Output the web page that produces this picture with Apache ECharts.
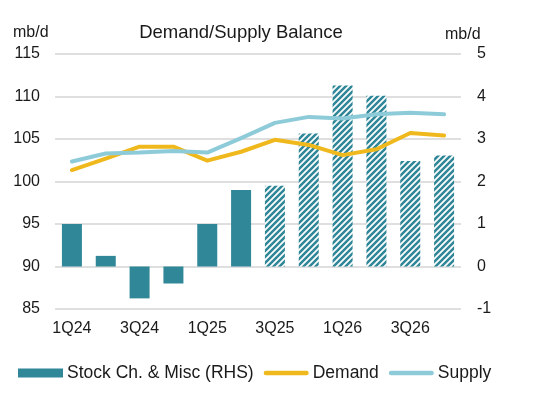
<!DOCTYPE html>
<html>
<head>
<meta charset="utf-8">
<script src="https://cdn.jsdelivr.net/npm/echarts@6/dist/echarts.min.js"></script>
<style>
html,body{margin:0;padding:0;background:#fff;}
#chart{width:554px;height:395px;}
</style>
</head>
<body>
<div id="chart"></div>
<script>
const categories = ['1Q24','2Q24','3Q24','4Q24','1Q25','2Q25','3Q25','4Q25','1Q26','2Q26','3Q26','4Q26'];
const stockChange = [1.0, 0.25, -0.75, -0.4, 1.0, 1.8, 1.9, 3.13, 4.26, 4.02, 2.48, 2.61];
const forecastStart = 6;
const demand = [101.35, 102.7, 104.1, 104.1, 102.45, 103.5, 104.9, 104.3, 103.1, 103.8, 105.7, 105.4];
const supply = [102.35, 103.3, 103.4, 103.6, 103.4, 105.1, 106.9, 107.6, 107.4, 107.9, 108.1, 107.9];
const leftTicks = [85, 115, 5];
const rightTicks = [-1, 5, 1];

const barColor = '#2f8797';
const demandColor = '#efb91d';
const supplyColor = '#8ecbd9';

function hatch() {
  const c = document.createElement('canvas');
  const s = 6;
  c.width = s; c.height = s;
  const g = c.getContext('2d');
  g.fillStyle = '#ffffff';
  g.fillRect(0,0,s,s);
  g.strokeStyle = barColor;
  g.lineWidth = 2.5;
  g.beginPath();
  g.moveTo(-1, s+1); g.lineTo(s+1, -1);
  g.moveTo(-1 - s, s+1); g.lineTo(1, -1);
  g.moveTo(s-1, s+1); g.lineTo(2*s+1, -1);
  g.stroke();
  return c;
}
const pattern = {image: hatch(), repeat: 'repeat'};

const barData = stockChange.map((v, i) => i >= forecastStart
  ? {value: v, itemStyle: {color: pattern}}
  : {value: v});

const lineIcon = 'path://M2,0 L44,0 A2.25,2.25 0 0 1 44,4.5 L2,4.5 A2.25,2.25 0 0 1 2,0 Z';

const chart = echarts.init(document.getElementById('chart'), null, {renderer: 'canvas'});
const font = 'Liberation Sans, Arial, sans-serif';
chart.setOption({
  animation: false,
  backgroundColor: '#fff',
  textStyle: {fontFamily: font},
  title: {
    text: 'Demand/Supply Balance',
    left: 236, textAlign: 'center', top: 18,
    textStyle: {fontFamily: font, fontSize: 18.5, fontWeight: 'normal', color: '#1a1a1a'}
  },
  graphic: [
    {type: 'text', left: 13, top: 25, style: {text: 'mb/d', font: '16px ' + font, fill: '#1a1a1a'}},
    {type: 'text', left: 445, top: 27, style: {text: 'mb/d', font: '16px ' + font, fill: '#1a1a1a'}}
  ],
  legend: {
    bottom: 8, left: 13,
    itemWidth: 45, itemHeight: 9, itemGap: 10,
    textStyle: {fontFamily: font, fontSize: 17.5, color: '#1a1a1a', padding: [0,0,0,-1]},
    data: [
      {name: 'Stock Ch. & Misc (RHS)', icon: 'rect', itemStyle: {color: barColor}},
      {name: 'Demand', icon: lineIcon, itemStyle: {color: demandColor}},
      {name: 'Supply', icon: lineIcon, itemStyle: {color: supplyColor}}
    ]
  },
  grid: {left: 55, right: 93, top: 54, bottom: 86},
  xAxis: {
    type: 'category', data: categories,
    axisLine: {show: false}, axisTick: {show: false},
    axisLabel: {interval: 1, margin: 12, fontSize: 16, color: '#1a1a1a', fontFamily: font}
  },
  yAxis: [
    {type: 'value', min: leftTicks[0], max: leftTicks[1], interval: leftTicks[2],
     axisLine: {show: false}, axisTick: {show: false},
     axisLabel: {margin: 15, fontSize: 16, color: '#1a1a1a', fontFamily: font},
     splitLine: {lineStyle: {color: '#d4d4d4', width: 1.5}}},
    {type: 'value', min: rightTicks[0], max: rightTicks[1], interval: rightTicks[2],
     axisLine: {show: false}, axisTick: {show: false},
     axisLabel: {margin: 16, fontSize: 16, color: '#1a1a1a', fontFamily: font},
     splitLine: {show: false}}
  ],
  series: [
    {name: 'Stock Ch. & Misc (RHS)', type: 'bar', yAxisIndex: 1, data: barData,
     barWidth: 20, itemStyle: {color: barColor}},
    {name: 'Demand', type: 'line', yAxisIndex: 0, data: demand, symbol: 'none',
     lineStyle: {color: demandColor, width: 4, cap: 'round', join: 'round'}, itemStyle: {color: demandColor}},
    {name: 'Supply', type: 'line', yAxisIndex: 0, data: supply, symbol: 'none',
     lineStyle: {color: supplyColor, width: 4, cap: 'round', join: 'round'}, itemStyle: {color: supplyColor}}
  ]
});
</script>
</body>
</html>
